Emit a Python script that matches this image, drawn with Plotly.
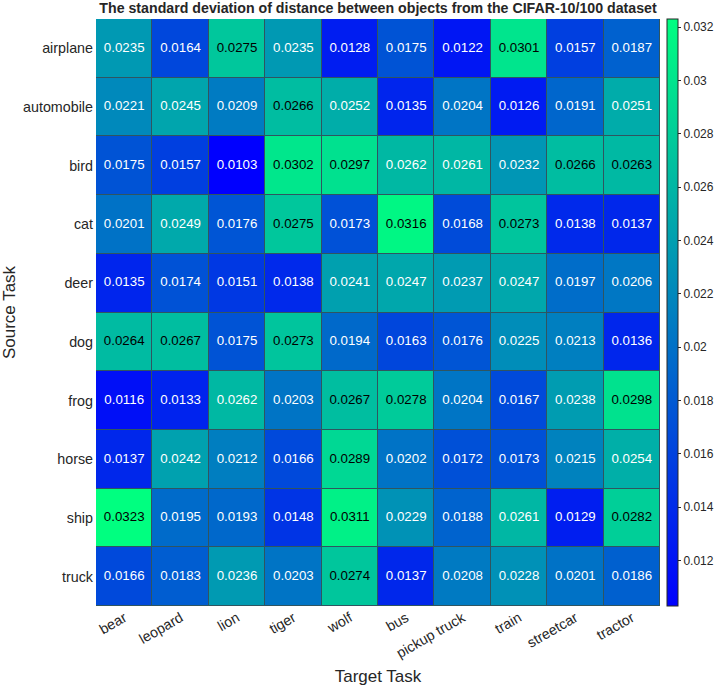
import plotly.graph_objects as go

targets = ["bear", "leopard", "lion", "tiger", "wolf", "bus", "pickup truck", "train", "streetcar", "tractor"]
sources = ["airplane", "automobile", "bird", "cat", "deer", "dog", "frog", "horse", "ship", "truck"]

row_airplane = [0.0235, 0.0164, 0.0275, 0.0235, 0.0128, 0.0175, 0.0122, 0.0301, 0.0157, 0.0187]
row_automobile = [0.0221, 0.0245, 0.0209, 0.0266, 0.0252, 0.0135, 0.0204, 0.0126, 0.0191, 0.0251]
row_bird = [0.0175, 0.0157, 0.0103, 0.0302, 0.0297, 0.0262, 0.0261, 0.0232, 0.0266, 0.0263]
row_cat = [0.0201, 0.0249, 0.0176, 0.0275, 0.0173, 0.0316, 0.0168, 0.0273, 0.0138, 0.0137]
row_deer = [0.0135, 0.0174, 0.0151, 0.0138, 0.0241, 0.0247, 0.0237, 0.0247, 0.0197, 0.0206]
row_dog = [0.0264, 0.0267, 0.0175, 0.0273, 0.0194, 0.0163, 0.0176, 0.0225, 0.0213, 0.0136]
row_frog = [0.0116, 0.0133, 0.0262, 0.0203, 0.0267, 0.0278, 0.0204, 0.0167, 0.0238, 0.0298]
row_horse = [0.0137, 0.0242, 0.0212, 0.0166, 0.0289, 0.0202, 0.0172, 0.0173, 0.0215, 0.0254]
row_ship = [0.0323, 0.0195, 0.0193, 0.0148, 0.0311, 0.0229, 0.0188, 0.0261, 0.0129, 0.0282]
row_truck = [0.0166, 0.0183, 0.0236, 0.0203, 0.0274, 0.0137, 0.0208, 0.0228, 0.0201, 0.0186]

z = [row_airplane, row_automobile, row_bird, row_cat, row_deer,
     row_dog, row_frog, row_horse, row_ship, row_truck]

cb_ticks = [0.012, 0.014, 0.016, 0.018, 0.02, 0.022, 0.024, 0.026, 0.028, 0.03, 0.032]
cb_labels = ["0.012", "0.014", "0.016", "0.018", "0.02", "0.022", "0.024", "0.026", "0.028", "0.03", "0.032"]

zmin = min(min(r) for r in z)
zmax = max(max(r) for r in z)

winter = [[0, "rgb(0,0,255)"], [1, "rgb(0,255,128)"]]

FONT = "Liberation Sans, Arial, Helvetica, sans-serif"

fig = go.Figure()
fig.add_trace(go.Heatmap(
    z=z, x=targets, y=sources, colorscale=winter, zmin=zmin, zmax=zmax,
    xgap=1, ygap=1, hoverongaps=False,
    colorbar=dict(
        tickvals=cb_ticks, ticktext=cb_labels, thickness=11, len=1.0,
        lenmode="fraction", y=0.5, yanchor="middle", x=1.0, xanchor="left", xpad=7, ypad=0,
        outlinewidth=1, outlinecolor="#262626", ticks="outside", ticklen=3,
        tickcolor="#262626", tickfont=dict(size=12, color="#262626", family=FONT),
    ),
))

# cell value labels
xs, ys, texts, colors = [], [], [], []
for i, s in enumerate(sources):
    for j, t in enumerate(targets):
        v = z[i][j]
        xs.append(t)
        ys.append(s)
        texts.append(f"{v:.4g}")
        frac = (v - zmin) / (zmax - zmin)
        colors.append("black" if frac > 0.725 else "white")

fig.add_trace(go.Scatter(
    x=xs, y=ys, text=texts, mode="text",
    textfont=dict(size=13.3, color=colors, family=FONT),
    hoverinfo="skip", showlegend=False,
))

fig.update_layout(
    width=716, height=687,
    margin=dict(l=96, r=56, t=19, b=81, autoexpand=False),
    paper_bgcolor="white", plot_bgcolor="#2f5560",
    title=dict(text="<b>The standard deviation of distance between objects from the CIFAR-10/100 dataset</b>",
               x=0.5, xanchor="center", xref="paper", yref="container",
               y=1 - 8.0 / 687, yanchor="middle",
               font=dict(size=14.2, color="#262626", family=FONT)),
    font=dict(family=FONT, color="#262626"),
    showlegend=False,
)
fig.update_xaxes(title=dict(text="Target Task", font=dict(size=17), standoff=10),
                 tickangle=-30, tickfont=dict(size=14.3), showgrid=False, zeroline=False,
                 ticks="", categoryorder="array", categoryarray=targets,
                 range=[-0.5, 9.5], autorange=False, automargin=False)
fig.update_yaxes(title=dict(text="Source Task", font=dict(size=17), standoff=5),
                 tickfont=dict(size=14.3), showgrid=False, zeroline=False, ticks="",
                 ticklabelstandoff=2,
                 categoryorder="array", categoryarray=sources,
                 range=[9.5, -0.5], autorange=False, automargin=False)

fig.write_html("out.html", config={"displayModeBar": False},
               post_script="document.body.style.margin='0';")
